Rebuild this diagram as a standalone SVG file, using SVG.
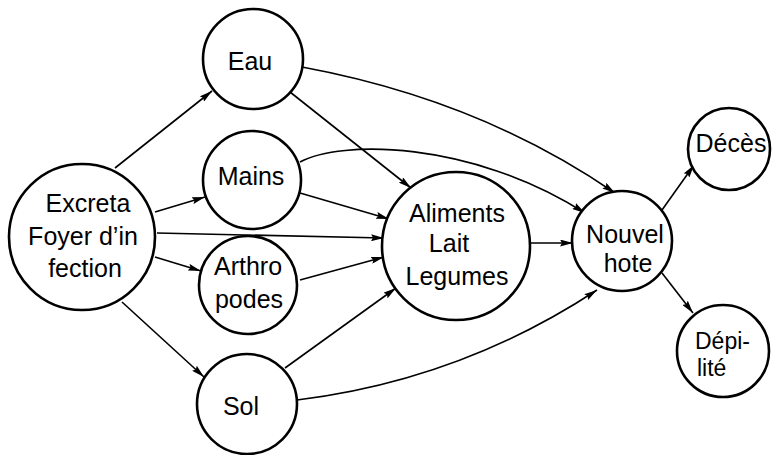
<svg xmlns="http://www.w3.org/2000/svg" width="772" height="455" viewBox="0 0 772 455">
  <style>
    .node circle { fill: #fff; stroke: #000; stroke-width: 2.6; }
    .node text { font-family: "Liberation Sans", Arial, sans-serif; font-size: 25px; fill: #000; text-anchor: middle; }
    .node text.small { font-size: 23px; text-anchor: start; }
    .edge { fill: none; stroke: #000; stroke-width: 1.6; marker-end: url(#arrow); }
  </style>
  <defs>
    <marker id="arrow" viewBox="0 0 13 7" refX="13" refY="3.5" markerWidth="13" markerHeight="7" markerUnits="userSpaceOnUse" orient="auto">
      <path d="M0,0 L13,3.5 L0,7 L2,3.5 z" fill="#000"/>
    </marker>
  </defs>
  <rect width="772" height="455" fill="#fff"/>

  <g id="connectors">
    <line class="edge" x1="115" y1="168" x2="212" y2="91"/>
    <line class="edge" x1="155" y1="212" x2="205" y2="197"/>
    <line class="edge" x1="157" y1="233" x2="384" y2="238"/>
    <line class="edge" x1="155" y1="257" x2="201" y2="271"/>
    <line class="edge" x1="122" y1="302" x2="204" y2="377"/>
    <line class="edge" x1="290" y1="92" x2="411" y2="188"/>
    <path class="edge" d="M302,67 Q480,100 615,193"/>
    <path class="edge" d="M300,162 C340,140 470,140 585,213"/>
    <line class="edge" x1="300" y1="193" x2="389" y2="219"/>
    <line class="edge" x1="300" y1="280" x2="384" y2="257"/>
    <line class="edge" x1="285" y1="368" x2="396" y2="288"/>
    <path class="edge" d="M297,400 Q460,380 597,290"/>
    <line class="edge" x1="530" y1="243" x2="573" y2="243"/>
    <line class="edge" x1="662" y1="210" x2="694" y2="165"/>
    <line class="edge" x1="662" y1="273" x2="693" y2="313"/>
  </g>

  <g id="excreta" class="node">
    <circle cx="82" cy="237" r="73"/>
    <text x="88" y="212">Excreta</text>
    <text x="83" y="245">Foyer d’in</text>
    <text x="85" y="277">fection</text>
  </g>
  <g id="eau" class="node">
    <circle cx="253" cy="59" r="50"/>
    <text x="250" y="70">Eau</text>
  </g>
  <g id="mains" class="node">
    <circle cx="252" cy="180" r="49"/>
    <text x="251" y="185">Mains</text>
  </g>
  <g id="arthropodes" class="node">
    <circle cx="248" cy="285" r="49"/>
    <text x="248" y="275">Arthro</text>
    <text x="249" y="308">podes</text>
  </g>
  <g id="sol" class="node">
    <circle cx="247" cy="404" r="50"/>
    <text x="241" y="415">Sol</text>
  </g>
  <g id="aliments" class="node">
    <circle cx="456" cy="246" r="74"/>
    <text x="457" y="222">Aliments</text>
    <text x="449" y="252">Lait</text>
    <text x="457" y="285">Legumes</text>
  </g>
  <g id="nouvel-hote" class="node">
    <circle cx="622" cy="241" r="50"/>
    <text x="625" y="243">Nouvel</text>
    <text x="628" y="272">hote</text>
  </g>
  <g id="deces" class="node">
    <circle cx="729" cy="149" r="41"/>
    <text x="731" y="152">Décès</text>
  </g>
  <g id="depilite" class="node">
    <circle cx="723" cy="351" r="46"/>
    <text class="small" x="695" y="349">Dépi-</text>
    <text class="small" x="697" y="376">lité</text>
  </g>
</svg>
